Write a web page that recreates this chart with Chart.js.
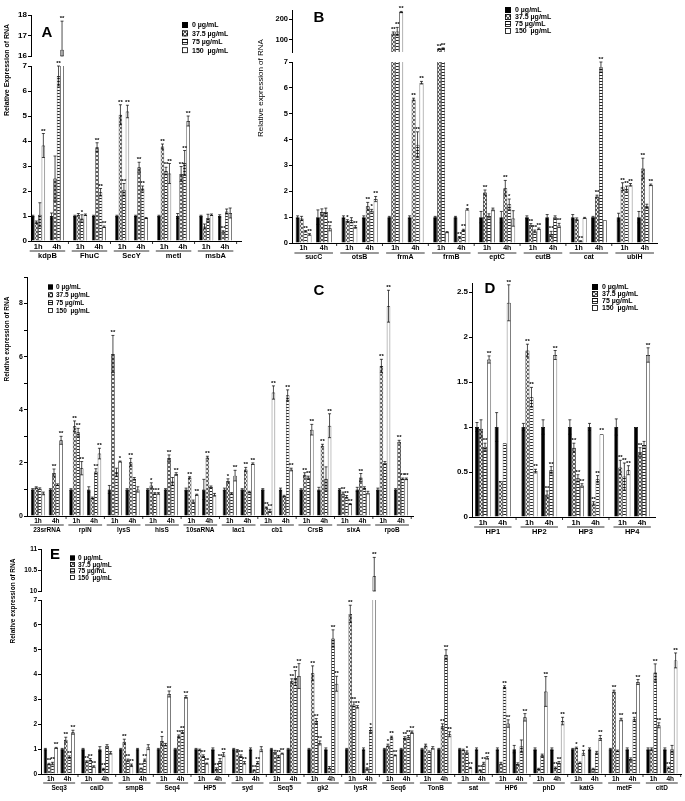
<!DOCTYPE html>
<html>
<head>
<meta charset="utf-8">
<title>Relative expression of RNA</title>
<script src="https://cdn.jsdelivr.net/npm/chart.js@4.4.1/dist/chart.umd.min.js"></script>
<style>
  body { margin: 0; width: 685px; height: 801px; background: #fff; position: relative; overflow: hidden; }
  canvas { position: absolute; }
</style>
</head>
<body>
<script>
// legend labels (dose) and time points
var doses = ['0 µg/mL', '37.5 µg/mL', '75 µg/mL', '150  µg/mL'];
var times = ['1h', '4h'];

// ---- Panel A ---- (order: gene1 1h, gene1 4h, gene2 1h, ...)
var genesA = ['kdpB', 'FhuC', 'SecY', 'metI', 'msbA'];
var aVal0   = [1, 1, 1, 1, 1, 1, 1, 1, 1, 1];
var aErr0   = [0.03, 0.12, 0.03, 0.03, 0.03, 0.03, 0.03, 0.1, 0.03, 0.05];
var aVal37  = [0.75, 2.5, 1.05, 3.75, 5.05, 2.95, 3.78, 2.68, 0.58, 0.38];
var aErr37  = [0.05, 0.9, 0.05, 0.18, 0.4, 0.2, 0.1, 0.3, 0.1, 0.03];
var aSig37  = ['', '', '', '**', '**', '**', '**', '**', '', '**'];
var aVal75  = [1.05, 6.6, 0.9, 1.95, 2.05, 2.1, 2.8, 3.12, 0.92, 1.18];
var aErr75  = [0.48, 0.4, 0.15, 0.15, 0.25, 0.1, 0.15, 0.5, 0.15, 0.1];
var aSig75  = ['', '**', '*', '**', '**', '**', '**', '**', '', ''];
var aVal150 = [3.82, 16.3, 1.05, 0.57, 5.18, 0.92, 2.7, 4.8, 1.05, 1.12];
var aErr150 = [0.48, 1.4, 0.03, 0.03, 0.25, 0.02, 0.4, 0.2, 0.03, 0.2];
var aSig150 = ['**', '**', '', '**', '**', '', '**', '**', '', ''];

// ---- Panel B ----
var genesB = ['sucC', 'otsB', 'frmA', 'frmB', 'eptC', 'eutB', 'cat', 'ubiH'];
var bVal0   = [1, 1, 1, 1, 1, 1, 1, 1, 1, 1, 1, 1, 1, 1, 1, 1];
var bErr0   = [0.05, 0.28, 0.05, 0.05, 0.03, 0.05, 0.03, 0.03, 0.22, 0.22, 0.05, 0.1, 0.1, 0.03, 0.15, 0.22];
var bVal37  = [0.95, 1.2, 0.85, 1.42, 130, 5.55, 55, 0.22, 1.95, 2.12, 0.7, 0.35, 0.92, 1.8, 2.18, 2.88];
var bErr37  = [0.08, 0.12, 0.05, 0.15, 8, 0.05, 2, 0.03, 0.1, 0.3, 0.05, 0.1, 0.05, 0.05, 0.15, 0.4];
var bSig37  = ['', '', '*', '**', '**', '**', '**', '**', '**', '**', '**', '**', '', '**', '**', '**'];
var bVal75  = [0.45, 1.2, 0.88, 1.25, 140, 3.8, 58, 0.5, 1.05, 1.5, 0.45, 1.0, 0.07, 6.8, 2.1, 1.42];
var bErr75  = [0.03, 0.15, 0.1, 0.05, 20, 0.5, 2, 0.03, 0.08, 0.2, 0.05, 0.05, 0.02, 0.2, 0.1, 0.08];
var bSig75  = ['**', '', '', '*', '**', '**', '**', '**', '', '*', '**', '', '**', '**', '**', ''];
var bVal150 = [0.33, 0.57, 0.62, 1.7, 235, 6.2, 0.42, 1.3, 1.3, 0.95, 0.55, 0.68, 0.97, 0.88, 2.25, 2.25];
var bErr150 = [0.03, 0.1, 0.05, 0.1, 3, 0.05, 0.02, 0.03, 0.05, 0.3, 0.03, 0.08, 0.02, 0.01, 0.05, 0.03];
var bSig150 = ['**', '**', '**', '**', '**', '**', '', '*', '', '', '**', '**', '', '', '**', '**'];

// ---- Panel C ----
var genesC = ['23srRNA', 'rplN', 'lysS', 'hisS', '10saRNA', 'lac1', 'cb1', 'CrsB', 'sixA', 'rpoB'];
var cVal0   = [1, 1, 1, 1, 1, 1, 1, 1, 1, 1, 1, 1, 1, 1, 1, 1, 1, 1, 1, 1];
var cErr0   = [0.03, 0.03, 0.03, 0.1, 0.15, 0.03, 0.03, 0.03, 0.05, 0.38, 0.05, 0.03, 0.03, 0.05, 0.03, 0.08, 0.03, 0.08, 0.05, 0.03];
var cVal37  = [1.07, 1.62, 3.38, 0.68, 6.1, 2.02, 1.15, 2.18, 1.45, 2.2, 1.32, 1.75, 0.32, 0.75, 1.55, 2.65, 0.85, 1.45, 5.65, 2.8];
var cErr37  = [0.03, 0.15, 0.2, 0.03, 0.7, 0.15, 0.1, 0.12, 0.03, 0.05, 0.08, 0.08, 0.02, 0.03, 0.08, 0.05, 0.05, 0.15, 0.25, 0.05];
var cSig37  = ['', '**', '**', '', '**', '**', '*', '**', '**', '**', '*', '**', '**', '', '**', '**', '**', '**', '**', '**'];
var cVal75  = [1.03, 1.18, 3.15, 1.68, 1.65, 1.4, 0.85, 1.3, 0.55, 1.1, 0.85, 0.9, 0.2, 4.55, 1.45, 1.4, 0.72, 1.05, 2.0, 1.4];
var cErr75  = [0.03, 0.03, 0.15, 0.1, 0.15, 0.05, 0.03, 0.15, 0.05, 0.03, 0.03, 0.03, 0.05, 0.2, 0.05, 0.45, 0.05, 0.05, 0.05, 0.03];
var cSig75  = ['', '', '**', '**', '', '', '**', '', '', '', '', '', '**', '**', '**', '', '**', '', '', '**'];
var cVal150 = [0.85, 2.85, 1.8, 2.35, 2.05, 1.0, 0.85, 1.58, 0.8, 0.8, 1.52, 1.97, 4.65, 1.75, 3.25, 3.4, 0.45, 0.88, 7.9, 1.4];
var cErr150 = [0.05, 0.15, 0.25, 0.2, 0.02, 0.1, 0.03, 0.05, 0.02, 0.05, 0.2, 0.03, 0.25, 0.05, 0.2, 0.45, 0.02, 0.05, 0.6, 0.03];
var cSig150 = ['', '**', '**', '**', '*', '', '*', '**', '**', '', '**', '**', '**', '**', '**', '**', '**', '', '**', '**'];

// ---- Panel D ----
var genesD = ['HP1', 'HP2', 'HP3', 'HP4'];
var dVal0   = [1, 1, 1, 1, 1, 1, 1, 1];
var dErr0   = [0.05, 0.16, 0.04, 0.08, 0.08, 0.04, 0.09, 0];
var dVal37  = [0.98, 0.4, 1.85, 0.25, 0.77, 0.15, 0.55, 0.72];
var dErr37  = [0.1, 0.01, 0.07, 0.04, 0.05, 0.02, 0.08, 0.05];
var dSig37  = ['', '', '**', '**', '**', '**', '**', '**'];
var dVal75  = [0.78, 0.82, 1.33, 0.52, 0.43, 0.42, 0.45, 0.8];
var dErr75  = [0.04, 0.01, 0.11, 0.04, 0.04, 0.04, 0.15, 0.04];
var dSig75  = ['**', '', '**', '**', '**', '**', '**', ''];
var dVal150 = [1.75, 2.38, 0.51, 1.8, 0.35, 0.92, 0.52, 1.8];
var dErr150 = [0.04, 0.2, 0.02, 0.05, 0.02, 0.01, 0.05, 0.08];
var dSig150 = ['**', '**', '**', '**', '**', '**', '**', '**'];

// ---- Panel E ----
var genesE = ['Seq3', 'caiD', 'smpB', 'Seq4', 'HP5', 'syd', 'Seq5', 'gk2', 'lysR', 'Seq6', 'TonB', 'sat', 'HP6', 'phD', 'katG', 'metF', 'citD'];
var eVal0   = [1, 1, 1, 1, 1, 1, 1, 1, 1, 1, 1, 1, 1, 1, 1, 1, 1, 1, 1, 1, 1, 1, 1, 1, 1, 1, 1, 1, 1, 1, 1, 1, 1, 1];
var eErr0   = [0.03, 0.03, 0.03, 0.1, 0.03, 0.03, 0.03, 0.03, 0.03, 0.05, 0.03, 0.05, 0.03, 0.03, 0.03, 0.05, 0.03, 0.05, 0.03, 0.03, 0.03, 0.03, 0.03, 0.05, 0.05, 0.15, 0.05, 0.05, 0.03, 0.05, 0.03, 0.05, 0.05, 0.05];
var eVal37  = [0.4, 1.38, 0.5, 0.2, 1.3, 0.22, 1.33, 1.52, 0.97, 0.2, 0.95, 0.15, 0.9, 3.73, 4.05, 0.25, 6.44, 0.22, 1.15, 1.45, 1.15, 1.92, 0.97, 0.15, 0.42, 0.4, 0.2, 0.25, 1.05, 0.2, 3.32, 0.6, 1.0, 0.25];
var eErr37  = [0.03, 0.1, 0.03, 0.03, 0.1, 0.02, 0.18, 0.05, 0.03, 0.05, 0.03, 0.02, 0.05, 0.1, 0.3, 0.05, 0.35, 0.03, 0.05, 0.05, 0.05, 0.1, 0.03, 0.02, 0.05, 0.05, 0.03, 0.03, 0.03, 0.03, 0.05, 0.05, 0.05, 0.03];
var eSig37  = ['**', '**', '**', '**', '**', '**', '*', '**', '', '**', '', '**', '', '**', '**', '', '**', '*', '*', '**', '', '**', '', '**', '', '', '', '**', '*', '', '**', '', '', '**'];
var eVal75  = [0.42, 0.68, 0.57, 1.13, 0.55, 0.55, 1.18, 1.7, 0.72, 0.52, 0.72, 0.45, 0.7, 3.86, 2.13, 5.45, 2.8, 1.77, 1.48, 1.5, 0.9, 4.8, 0.88, 0.42, 3.5, 1.12, 0.75, 0.45, 0.45, 0.86, 0.93, 2.2, 4.08, 1.0];
var eErr75  = [0.05, 0.05, 0.05, 0.05, 0.05, 0.05, 0.05, 0.05, 0.05, 0.1, 0.05, 0.05, 0.05, 0.3, 0.1, 0.35, 0.1, 0.1, 0.04, 0.05, 0.03, 0.2, 0.05, 0.05, 0.05, 0.25, 0.05, 0.05, 0.03, 0.05, 0.03, 0.08, 0.35, 0.15];
var eSig75  = ['**', '**', '**', '', '**', '**', '', '**', '**', '**', '**', '**', '**', '**', '**', '**', '**', '*', '**', '**', '', '**', '*', '**', '**', '', '', '**', '', '', '', '**', '**', ''];
var eVal150 = [1.05, 1.68, 0.3, 0.85, 0.35, 1.08, 3.22, 3.1, 0.42, 0.78, 0.45, 1.0, 0.82, 3.94, 1.25, 3.63, 2.7, 10.35, 0.75, 1.68, 1.05, 1.6, 0.25, 0.65, 2.03, 2.28, 3.32, 2.13, 0.85, 1.45, 2.19, 3.7, 1.96, 4.57];
var eErr150 = [0.02, 0.08, 0.03, 0.05, 0.05, 0.1, 0.12, 0.05, 0.02, 0.08, 0.05, 0.1, 0.02, 0.5, 0.08, 0.3, 0.05, 0.45, 0.02, 0.05, 0.05, 0.1, 0.02, 0.05, 0.15, 0.15, 0.6, 0.15, 0.1, 0.1, 0.05, 0.1, 0.1, 0.3];
var eSig150 = ['**', '**', '**', '', '**', '', '**', '**', '**', '**', '**', '', '**', '**', '**', '**', '**', '**', '**', '**', '', '**', '**', '**', '**', '**', '**', '**', '*', '**', '**', '**', '**', '**'];

var FONT = '"Liberation Sans", Arial, sans-serif';

// bar fills: solid black, cross hatch, horizontal lines, white
function crossFill() {
  var c = document.createElement('canvas'); c.width = 4; c.height = 4;
  var g = c.getContext('2d');
  g.fillStyle = '#ececec'; g.fillRect(0, 0, 4, 4);
  g.fillStyle = '#5a5a5a';
  [[0,0],[1,1],[2,2],[3,3],[3,0],[2,1],[1,2],[0,3]].forEach(function(p) { g.fillRect(p[0], p[1], 1, 1); });
  return g.createPattern(c, 'repeat');
}
function lineFill() {
  var c = document.createElement('canvas'); c.width = 4; c.height = 3;
  var g = c.getContext('2d');
  g.fillStyle = '#fff'; g.fillRect(0, 0, 4, 3);
  g.fillStyle = '#222'; g.fillRect(0, 0, 4, 1);
  return g.createPattern(c, 'repeat');
}
var fills = ['#000', crossFill(), lineFill(), '#fff'];

function addCanvas(x, y, w, h) {
  var cv = document.createElement('canvas');
  cv.width = w; cv.height = h;
  cv.style.left = x + 'px'; cv.style.top = y + 'px';
  cv.style.width = w + 'px'; cv.style.height = h + 'px';
  document.body.appendChild(cv);
  return cv;
}

// error bars, stars, underline, letter, title and legend
function decor(p, xs, cx, cy, lower) {
  return {
    id: 'decor',
    afterDatasetsDraw: function(chart) {
      var ctx = chart.ctx, ys = chart.scales.y;
      ctx.save();
      ctx.strokeStyle = '#000'; ctx.fillStyle = '#000'; ctx.lineWidth = 0.7;
      ctx.font = 'bold 6px ' + FONT;
      ctx.textAlign = 'center';
      chart.data.datasets.forEach(function(ds, k) {
        chart.getDatasetMeta(k).data.forEach(function(bar, i) {
          var v = ds.data[i].y, e = ds.errs[i];
          if (v > ys.max || v < ys.min) return;
          var x = bar.x;
          var yt = ys.getPixelForValue(v + e);
          var yb = ys.getPixelForValue(Math.max(v - e, ys.min));
          if (e > 0.015) {
            ctx.beginPath();
            ctx.moveTo(x, yb); ctx.lineTo(x, yt);
            ctx.moveTo(x - 1.5, yt); ctx.lineTo(x + 1.5, yt);
            ctx.moveTo(x - 1.5, yb); ctx.lineTo(x + 1.5, yb);
            ctx.stroke();
          }
          if (ds.sigs && ds.sigs[i]) ctx.fillText(ds.sigs[i], x, Math.min(yt, bar.y) - 1);
        });
      });
      ctx.restore();
    },
    afterDraw: function(chart) {
      if (!lower) return;
      var ctx = chart.ctx, xsc = chart.scales.x, a = chart.chartArea;
      var half = xsc.getPixelForValue(0.5) - xsc.getPixelForValue(0);
      ctx.save();
      ctx.strokeStyle = '#000'; ctx.fillStyle = '#000'; ctx.lineWidth = 0.8;
      ctx.beginPath();
      for (var i = 0; i < p.genes.length; i++) {
        var x1 = xsc.getPixelForValue(xs[2 * i]) - half * 0.9;
        var x2 = xsc.getPixelForValue(xs[2 * i + 1]) + half * 0.9;
        ctx.moveTo(x1, a.bottom + p.ulY); ctx.lineTo(x2, a.bottom + p.ulY);
        if (i > 0) {
          var xb = xsc.getPixelForValue(i * p.period - (p.period - 1) / 2);
          ctx.moveTo(xb, a.bottom); ctx.lineTo(xb, a.bottom + 3);
        }
      }
      var xe = xsc.getPixelForValue(p.genes.length * p.period - (p.period - 1) / 2);
      if (xe < a.right) { ctx.moveTo(xe, a.bottom); ctx.lineTo(xe, a.bottom + 3); }
      ctx.stroke();

      // panel letter
      ctx.font = 'bold 15px ' + FONT;
      ctx.textAlign = 'center'; ctx.textBaseline = 'middle';
      ctx.fillText(p.letter[0], p.letter[1] - cx, p.letter[2] - cy);

      // axis title
      if (p.title) {
        ctx.save();
        ctx.translate(p.title.x - cx, p.title.y - cy);
        ctx.rotate(-Math.PI / 2);
        ctx.font = p.title.font + ' ' + FONT;
        ctx.fillText(p.title.text, 0, 0);
        ctx.restore();
      }

      // legend
      var lg = p.legend;
      ctx.font = lg.font + ' ' + FONT;
      ctx.textAlign = 'left'; ctx.textBaseline = 'middle';
      chart.data.datasets.forEach(function(ds, k) {
        var ly = lg.y + k * lg.gap - cy;
        var lx = lg.x - cx;
        ctx.fillStyle = ds.backgroundColor;
        ctx.fillRect(lx, ly - lg.box / 2, lg.box, lg.box);
        ctx.strokeRect(lx + 0.5, ly - lg.box / 2 + 0.5, lg.box - 1, lg.box - 1);
        ctx.fillStyle = '#000';
        ctx.fillText(ds.label, lx + lg.box + lg.pad, ly + 0.5);
      });
      ctx.restore();
    }
  };
}

function makeSets(p, xs) {
  return doses.map(function(d, k) {
    return {
      label: d,
      data: p.vals[k].map(function(v, i) { return { x: xs[i], y: v }; }),
      errs: p.errs[k],
      sigs: p.sigs[k],
      backgroundColor: fills[k],
      borderColor: '#000',
      borderWidth: 0.7,
      borderSkipped: 'start',
      clip: 0,
      categoryPercentage: p.catPct,
      barPercentage: 1
    };
  });
}

function yAxis(p, min, max, yw, upperTicks) {
  var ax = {
    min: min, max: max,
    ticks: {
      stepSize: p.step, includeBounds: false, color: '#000', padding: 1,
      font: { family: FONT, size: p.tickSize, weight: 'bold' },
      callback: function(v) { return p.yLabel ? p.yLabel(v) : v; }
    },
    grid: { drawOnChartArea: false, tickLength: 3, color: '#000' },
    border: { color: '#000', width: 1 },
    afterFit: function(s) { s.width = yw; s.paddingTop = 0; s.paddingBottom = 0; }
  };
  if (upperTicks) {
    ax.afterBuildTicks = function(s) { s.ticks = upperTicks.map(function(v) { return { value: v }; }); };
    ax.ticks.callback = function(v) { return v; };
  }
  return ax;
}

// the time axis (1h / 4h); "show" false gives the same scale with nothing drawn
function timeAxis(xs, xMin, xMax, font, h, show) {
  return {
    type: 'linear', min: xMin, max: xMax, weight: 1, offset: false,
    afterBuildTicks: function(s) { s.ticks = xs.map(function(v) { return { value: v }; }); },
    ticks: { display: show, autoSkip: false, maxRotation: 0, padding: 1, color: '#000', font: font,
             callback: function(v, i) { return times[i % 2]; } },
    grid: { display: false, drawTicks: false, offset: false },
    border: { display: show, color: '#000', width: 1 },
    afterFit: function(s) { s.height = show ? h : 0; s.paddingLeft = 0; s.paddingRight = 0; }
  };
}

function buildPanel(p) {
  var xs = [], mids = [];
  p.genes.forEach(function(g, i) {
    xs.push(i * p.period, i * p.period + 1);
    mids.push(i * p.period + 0.5);
  });
  var xMin = -p.padL, xMax = xs[xs.length - 1] + p.padR;
  var yw = 38;
  var cx = p.axisX - yw, cw = p.axisEnd - cx + 6;
  var hx1 = 9, hx2 = 10;
  // canvas reaches up to the panel top so the legend, letter and title fit in it
  var cy = Math.min(p.ctop, p.top - 14);
  var padTop = p.top - cy;
  var cv = addCanvas(cx, cy, cw, p.base - cy + hx1 + hx2 + 2);
  var xFont = { family: FONT, size: p.xSize, weight: 'bold' };

  new Chart(cv.getContext('2d'), {
    type: 'bar',
    data: { datasets: makeSets(p, xs) },
    options: {
      responsive: false, animation: false, devicePixelRatio: 1,
      layout: { padding: { left: 0, right: 6, top: padTop, bottom: 2 } },
      plugins: { legend: { display: false }, tooltip: { enabled: false } },
      scales: {
        x: timeAxis(xs, xMin, xMax, xFont, hx1, true),
        x2: {
          type: 'linear', position: 'bottom', min: xMin, max: xMax, weight: 2, offset: false,
          afterBuildTicks: function(s) { s.ticks = mids.map(function(v) { return { value: v }; }); },
          ticks: { autoSkip: false, maxRotation: 0, padding: 1, color: '#000', font: xFont,
                   callback: function(v, i) { return p.genes[i]; } },
          grid: { display: false, drawTicks: false, offset: false },
          border: { display: false },
          afterFit: function(s) { s.height = hx2; s.paddingLeft = 0; s.paddingRight = 0; }
        },
        y: yAxis(p, 0, p.yMax, yw)
      }
    },
    plugins: [decor(p, xs, cx, cy, true)]
  });

  if (p.upper) {
    var u = p.upper;
    var ucy = u.top - 12;
    var ucv = addCanvas(cx, ucy, cw, u.bottom - u.top + 14);
    new Chart(ucv.getContext('2d'), {
      type: 'bar',
      data: { datasets: makeSets(p, xs) },
      options: {
        responsive: false, animation: false, devicePixelRatio: 1,
        layout: { padding: { left: 0, right: 6, top: 12, bottom: 2 } },
        plugins: { legend: { display: false }, tooltip: { enabled: false } },
        scales: {
          x: timeAxis(xs, xMin, xMax, xFont, 0, false),
          y: yAxis(p, u.min, u.max, yw, u.ticks)
        }
      },
      plugins: [decor(p, xs, cx, ucy, false)]
    });
  }
}

buildPanel({
  genes: genesA,
  vals: [aVal0, aVal37, aVal75, aVal150],
  errs: [aErr0, aErr37, aErr75, aErr150],
  sigs: [null, aSig37, aSig75, aSig150],
  axisX: 31, axisEnd: 241, base: 241, top: 66, yMax: 7, step: 1, ctop: 0,
  upper: { top: 15, bottom: 56, min: 16, max: 18, ticks: [16, 17, 18] },
  period: 2.25, padL: 0.38, padR: 0.86, catPct: 0.75,
  tickSize: 8, xSize: 7.5, ulY: 10,
  letter: ['A', 47, 33],
  title: { text: 'Relative Expression of RNA', x: 7, y: 70, font: 'bold 7px' },
  legend: { x: 182, y: 25, gap: 8.4, box: 6, pad: 4, font: 'bold 7px' }
});

buildPanel({
  genes: genesB,
  vals: [bVal0, bVal37, bVal75, bVal150],
  errs: [bErr0, bErr37, bErr75, bErr150],
  sigs: [null, bSig37, bSig75, bSig150],
  axisX: 292, axisEnd: 657, base: 243, top: 62, yMax: 7, step: 1, ctop: 0,
  upper: { top: 10, bottom: 52, min: 40, max: 245, ticks: [100, 200] },
  period: 2.26, padL: 0.57, padR: 0.6, catPct: 0.78,
  tickSize: 7.5, xSize: 7, ulY: 10,
  letter: ['B', 319, 18],
  title: { text: 'Relative expression of RNA', x: 261, y: 88, font: '8px' },
  legend: { x: 505, y: 10, gap: 7, box: 6, pad: 4, font: 'bold 7px' }
});

buildPanel({
  genes: genesC,
  vals: [cVal0, cVal37, cVal75, cVal150],
  errs: [cErr0, cErr37, cErr75, cErr150],
  sigs: [null, cSig37, cSig75, cSig150],
  axisX: 27, axisEnd: 413, base: 516, top: 277, yMax: 9, step: 1, ctop: 268,
  yLabel: function(v) { return v % 2 === 0 ? v : ''; },
  period: 2.16, padL: 0.62, padR: 0.68, catPct: 0.8,
  tickSize: 7, xSize: 6.5, ulY: 9,
  letter: ['C', 319, 291],
  title: { text: 'Relative expression of RNA', x: 7, y: 339, font: 'bold 6.5px' },
  legend: { x: 48, y: 287, gap: 7.8, box: 5, pad: 3, font: 'bold 6.5px' }
});

buildPanel({
  genes: genesD,
  vals: [dVal0, dVal37, dVal75, dVal150],
  errs: [dErr0, dErr37, dErr75, dErr150],
  sigs: [null, dSig37, dSig75, dSig150],
  axisX: 472, axisEnd: 655, base: 517, top: 283, yMax: 2.6, step: 0.5, ctop: 268,
  period: 2.36, padL: 0.56, padR: 0.66, catPct: 0.82,
  tickSize: 8, xSize: 7.5, ulY: 10,
  letter: ['D', 490, 289],
  title: null,
  legend: { x: 592, y: 287, gap: 7, box: 6, pad: 4, font: 'bold 7px' }
});

buildPanel({
  genes: genesE,
  vals: [eVal0, eVal37, eVal75, eVal150],
  errs: [eErr0, eErr37, eErr75, eErr150],
  sigs: [null, eSig37, eSig75, eSig150],
  axisX: 41, axisEnd: 681, base: 774, top: 600, yMax: 7, step: 1, ctop: 538,
  upper: { top: 549, bottom: 591, min: 10, max: 11, ticks: [10, 10.5, 11] },
  period: 2.24, padL: 0.58, padR: 0.64, catPct: 0.85,
  tickSize: 6.5, xSize: 6.5, ulY: 9,
  letter: ['E', 55, 555],
  title: { text: 'Relative expression of RNA', x: 13, y: 601, font: 'bold 6.5px' },
  legend: { x: 70, y: 558, gap: 6.5, box: 5, pad: 3, font: 'bold 6.5px' }
});
</script>
</body>
</html>
